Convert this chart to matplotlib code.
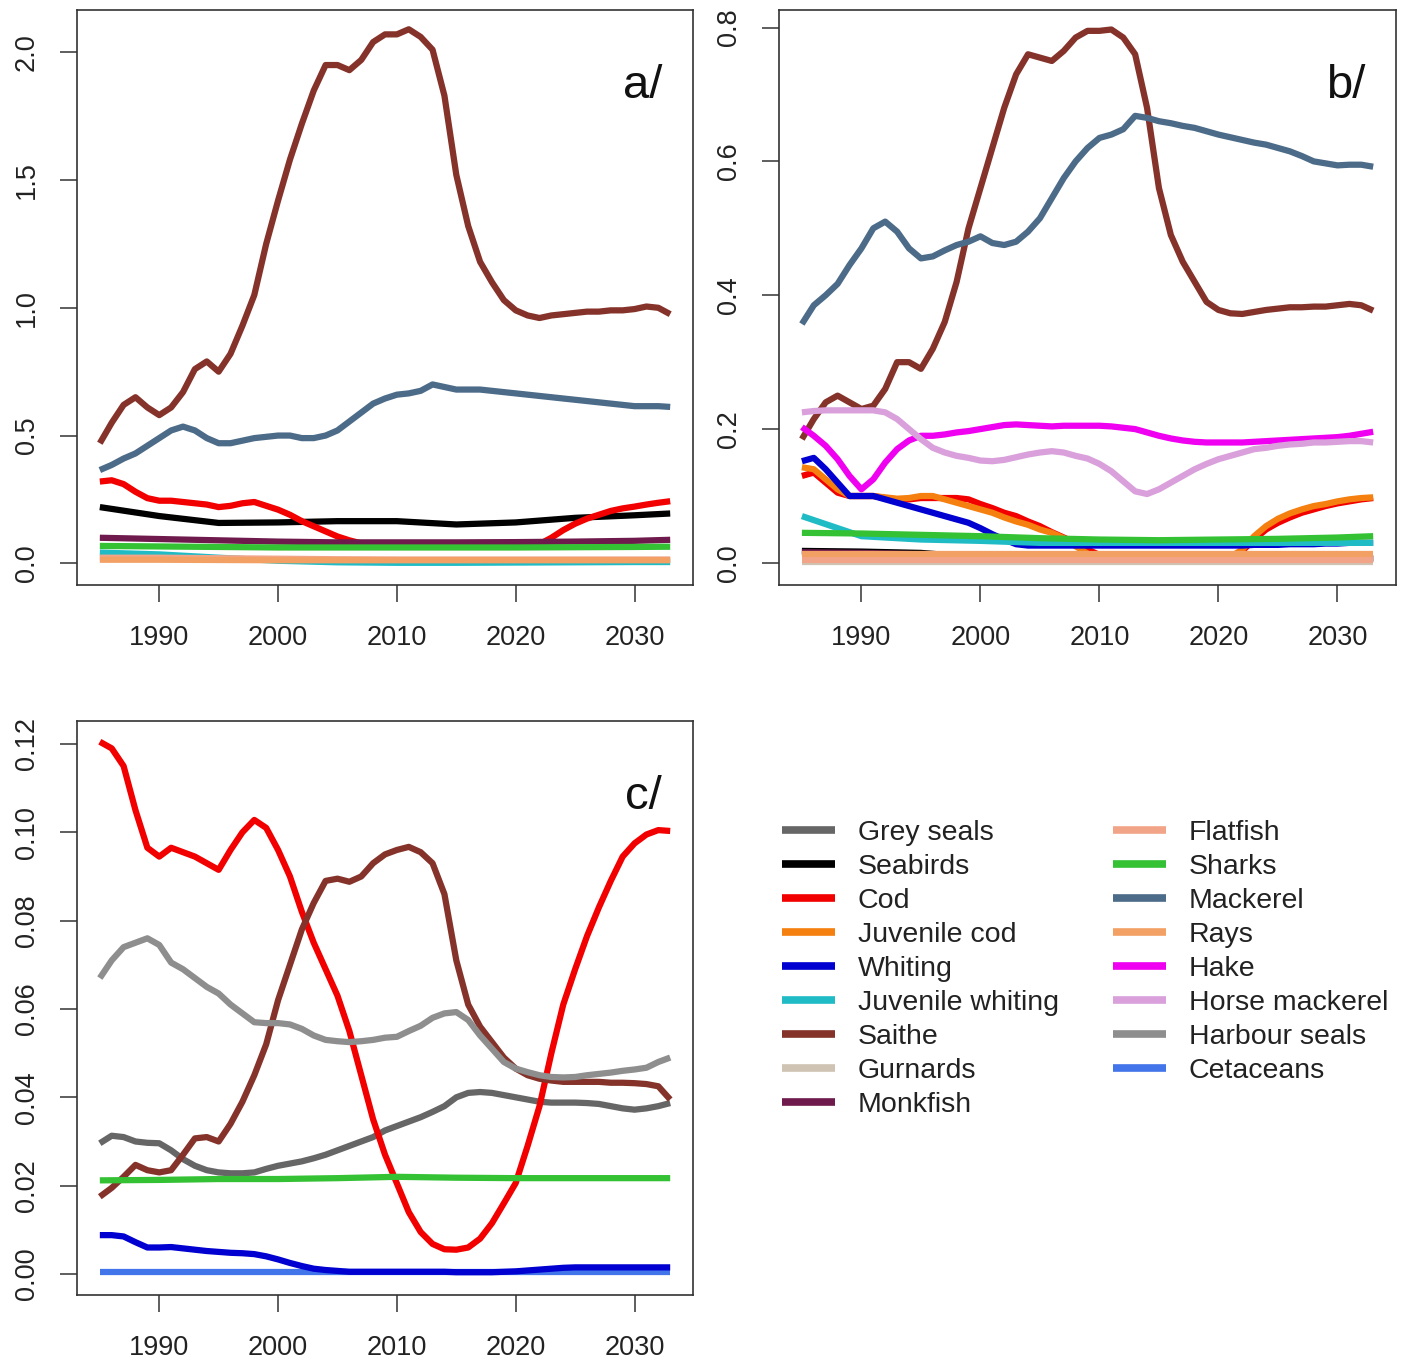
import numpy as np
import matplotlib
matplotlib.use("Agg")
import matplotlib.pyplot as plt
from matplotlib.lines import Line2D

plt.rcParams['font.family'] = ['Liberation Sans', 'DejaVu Sans']

# yearly series run 1985..2033, the flatter ones are sampled more coarsely
years = np.arange(1985, 2034)
yrs_s = [1985, 1990, 1995, 2000, 2005, 2010, 2015, 2020, 2025, 2030, 2033]

species = ["Grey seals", "Seabirds", "Cod", "Juvenile cod", "Whiting",
           "Juvenile whiting", "Saithe", "Gurnards", "Monkfish", "Flatfish",
           "Sharks", "Mackerel", "Rays", "Hake", "Horse mackerel",
           "Harbour seals", "Cetaceans"]
colours = ["#666666", "#000000", "#F20000", "#F5800F", "#0000D0",
           "#1FBCC6", "#85332A", "#CFC3B3", "#6E1A4C", "#F2A488",
           "#34C234", "#4C6B88", "#F3A064", "#F000F0", "#D9A0DC",
           "#8E8E8E", "#4274EA"]

# ---- panel a ----
a_saithe = [0.47, 0.55, 0.62, 0.65, 0.61, 0.58, 0.61, 0.67, 0.76, 0.79,
            0.75, 0.82, 0.93, 1.05, 1.25, 1.42, 1.58, 1.72, 1.85, 1.95,
            1.95, 1.93, 1.97, 2.04, 2.07, 2.07, 2.09, 2.06, 2.01, 1.83,
            1.52, 1.32, 1.18, 1.10, 1.03, 0.99, 0.97, 0.96, 0.97, 0.975,
            0.98, 0.985, 0.985, 0.99, 0.99, 0.995, 1.005, 1.0, 0.975]
a_mackerel = [0.365, 0.385, 0.41, 0.43, 0.46, 0.49, 0.52, 0.535, 0.52, 0.49,
              0.47, 0.47, 0.48, 0.49, 0.495, 0.50, 0.50, 0.49, 0.49, 0.50,
              0.52, 0.555, 0.59, 0.625, 0.645, 0.66, 0.665, 0.675, 0.70, 0.69,
              0.68, 0.68, 0.68, 0.675, 0.67, 0.665, 0.66, 0.655, 0.65, 0.645,
              0.64, 0.635, 0.63, 0.625, 0.62, 0.615, 0.615, 0.615, 0.612]
a_cod = [0.32, 0.325, 0.31, 0.28, 0.255, 0.245, 0.245, 0.24, 0.235, 0.23,
         0.22, 0.225, 0.235, 0.24, 0.225, 0.21, 0.19, 0.165, 0.145, 0.125,
         0.105, 0.09, 0.078, 0.068, 0.065, 0.065, 0.065, 0.065, 0.065, 0.065,
         0.065, 0.065, 0.065, 0.065, 0.065, 0.065, 0.066, 0.075, 0.10, 0.13,
         0.155, 0.175, 0.19, 0.205, 0.215, 0.222, 0.23, 0.237, 0.243]
a_seabirds = [0.22, 0.185, 0.158, 0.16, 0.165, 0.165, 0.152, 0.16, 0.178, 0.188, 0.195]
a_monkfish = [0.10, 0.095, 0.09, 0.085, 0.082, 0.082, 0.082, 0.083, 0.085, 0.088, 0.092]
a_sharks = [0.068, 0.066, 0.064, 0.062, 0.062, 0.062, 0.062, 0.062, 0.063, 0.064, 0.065]
a_juv_whiting = [0.042, 0.035, 0.022, 0.01, 0.004, 0.002, 0.002, 0.003, 0.004, 0.005, 0.005]
a_flatfish = [0.022, 0.022, 0.02, 0.018, 0.016, 0.015, 0.015, 0.015, 0.015, 0.015, 0.015]
a_rays = [0.014, 0.014, 0.013, 0.012, 0.012, 0.012, 0.012, 0.012, 0.012, 0.012, 0.012]

# ---- panel b ----
b_saithe = [0.185, 0.215, 0.24, 0.25, 0.24, 0.23, 0.235, 0.26, 0.30, 0.30,
            0.29, 0.32, 0.36, 0.42, 0.50, 0.56, 0.62, 0.68, 0.73, 0.76,
            0.755, 0.75, 0.765, 0.785, 0.795, 0.795, 0.797, 0.785, 0.76, 0.68,
            0.56, 0.49, 0.45, 0.42, 0.39, 0.378, 0.373, 0.372, 0.375, 0.378,
            0.38, 0.382, 0.382, 0.383, 0.383, 0.385, 0.387, 0.385, 0.377]
b_mackerel = [0.357, 0.385, 0.40, 0.417, 0.445, 0.47, 0.50, 0.51, 0.495, 0.47,
              0.455, 0.458, 0.467, 0.475, 0.48, 0.488, 0.478, 0.475, 0.48, 0.495,
              0.515, 0.545, 0.575, 0.60, 0.62, 0.635, 0.64, 0.648, 0.668, 0.665,
              0.66, 0.657, 0.653, 0.65, 0.645, 0.64, 0.636, 0.632, 0.628, 0.625,
              0.62, 0.615, 0.608, 0.60, 0.597, 0.594, 0.595, 0.595, 0.592]
b_hake = [0.203, 0.19, 0.175, 0.155, 0.13, 0.11, 0.125, 0.15, 0.17, 0.183,
          0.19, 0.19, 0.192, 0.195, 0.197, 0.20, 0.203, 0.206, 0.207, 0.206,
          0.205, 0.204, 0.205, 0.205, 0.205, 0.205, 0.204, 0.202, 0.20, 0.195,
          0.19, 0.186, 0.183, 0.181, 0.18, 0.18, 0.18, 0.18, 0.181, 0.182,
          0.183, 0.184, 0.185, 0.186, 0.187, 0.188, 0.19, 0.193, 0.196]
b_horse_mackerel = [0.225, 0.227, 0.228, 0.228, 0.228, 0.228, 0.228, 0.225, 0.215, 0.20,
                    0.185, 0.172, 0.165, 0.16, 0.157, 0.153, 0.152, 0.154, 0.158, 0.162,
                    0.165, 0.167, 0.165, 0.16, 0.156, 0.148, 0.137, 0.122, 0.107, 0.103,
                    0.11, 0.12, 0.13, 0.14, 0.148, 0.155, 0.16, 0.165, 0.17, 0.172,
                    0.175, 0.177, 0.178, 0.18, 0.18, 0.181, 0.182, 0.182, 0.18]
b_cod = [0.13, 0.135, 0.12, 0.105, 0.10, 0.10, 0.10, 0.097, 0.095, 0.095,
         0.097, 0.097, 0.097, 0.097, 0.095, 0.088, 0.082, 0.075, 0.07, 0.062,
         0.055, 0.046, 0.038, 0.03, 0.02, 0.012, 0.008, 0.008, 0.008, 0.008,
         0.008, 0.008, 0.008, 0.008, 0.008, 0.008, 0.009, 0.018, 0.035, 0.05,
         0.06, 0.068, 0.075, 0.08, 0.085, 0.089, 0.092, 0.095, 0.097]
b_juv_cod = [0.143, 0.14, 0.125, 0.11, 0.10, 0.10, 0.10, 0.098, 0.096, 0.097,
             0.10, 0.10, 0.095, 0.09, 0.085, 0.08, 0.075, 0.068, 0.062, 0.057,
             0.05, 0.045, 0.037, 0.025, 0.014, 0.008, 0.008, 0.008, 0.008, 0.008,
             0.008, 0.008, 0.008, 0.008, 0.008, 0.008, 0.009, 0.02, 0.04, 0.055,
             0.066, 0.074, 0.08, 0.085, 0.088, 0.092, 0.095, 0.097, 0.098]
b_whiting = [0.152, 0.157, 0.14, 0.12, 0.10, 0.10, 0.10, 0.095, 0.09, 0.085,
             0.08, 0.075, 0.07, 0.065, 0.06, 0.052, 0.043, 0.035, 0.028, 0.026,
             0.026, 0.026, 0.026, 0.026, 0.026, 0.026, 0.026, 0.026, 0.026, 0.026,
             0.026, 0.026, 0.026, 0.026, 0.026, 0.026, 0.026, 0.026, 0.027, 0.027,
             0.027, 0.028, 0.028, 0.028, 0.029, 0.029, 0.03, 0.03, 0.03]
b_juv_whiting = [0.07, 0.04, 0.035, 0.033, 0.03, 0.03, 0.03, 0.03, 0.03, 0.03, 0.03]
b_sharks = [0.045, 0.044, 0.042, 0.04, 0.037, 0.035, 0.034, 0.035, 0.036, 0.038, 0.04]
b_seabirds = [0.018, 0.017, 0.015, 0.008, 0.007, 0.007, 0.007, 0.007, 0.007, 0.007, 0.007]
b_monkfish = [0.016, 0.015, 0.013, 0.006, 0.006, 0.006, 0.006, 0.006, 0.006, 0.006, 0.006]
b_gurnards = [0.001, 0.001, 0.001, 0.001, 0.001, 0.001, 0.001, 0.001, 0.001, 0.001, 0.001]
b_flatfish = [0.005, 0.005, 0.005, 0.005, 0.005, 0.005, 0.005, 0.005, 0.005, 0.005, 0.005]
b_rays = [0.013, 0.013, 0.013, 0.013, 0.013, 0.013, 0.013, 0.013, 0.013, 0.013, 0.013]

# ---- panel c ----
c_cod = [0.1205, 0.119, 0.115, 0.105, 0.0965, 0.0945, 0.0965, 0.0955, 0.0945, 0.093,
         0.0915, 0.096, 0.100, 0.1028, 0.101, 0.096, 0.090, 0.082, 0.075, 0.069,
         0.063, 0.055, 0.045, 0.035, 0.027, 0.0205, 0.014, 0.0095, 0.0068, 0.0056,
         0.0055, 0.006, 0.008, 0.0115, 0.016, 0.0206, 0.029, 0.038, 0.05, 0.061,
         0.069, 0.0765, 0.083, 0.089, 0.0945, 0.0975, 0.0995, 0.1005, 0.1003]
c_saithe = [0.0175, 0.0195, 0.022, 0.0247, 0.0235, 0.023, 0.0235, 0.027, 0.0307, 0.031,
            0.030, 0.034, 0.039, 0.045, 0.052, 0.062, 0.070, 0.078, 0.084, 0.089,
            0.0895, 0.0888, 0.090, 0.093, 0.095, 0.096, 0.0967, 0.0955, 0.093, 0.086,
            0.071, 0.061, 0.056, 0.0525, 0.049, 0.0465, 0.045, 0.0442, 0.0438, 0.0435,
            0.0435, 0.0435, 0.0435, 0.0433, 0.0433, 0.0432, 0.043, 0.0425, 0.0395]
c_harbour_seals = [0.067, 0.071, 0.074, 0.075, 0.076, 0.0745, 0.0705, 0.069, 0.067, 0.065,
                   0.0635, 0.061, 0.059, 0.057, 0.0568, 0.0568, 0.0565, 0.0555, 0.054, 0.053,
                   0.0527, 0.0525, 0.0527, 0.053, 0.0535, 0.0537, 0.055, 0.0562, 0.058, 0.059,
                   0.0593, 0.0575, 0.054, 0.051, 0.048, 0.0465, 0.0457, 0.045, 0.0446, 0.0445,
                   0.0446, 0.045, 0.0453, 0.0456, 0.046, 0.0463, 0.0467, 0.048, 0.049]
c_grey_seals = [0.0296, 0.0313, 0.031, 0.030, 0.0297, 0.0296, 0.028, 0.026, 0.0245, 0.0235,
                0.023, 0.0228, 0.0228, 0.023, 0.0238, 0.0245, 0.025, 0.0255, 0.0262, 0.027,
                0.028, 0.029, 0.030, 0.031, 0.0325, 0.0335, 0.0345, 0.0355, 0.0367, 0.038,
                0.040, 0.041, 0.0412, 0.041, 0.0405, 0.040, 0.0395, 0.039, 0.0388, 0.0388,
                0.0388, 0.0387, 0.0385, 0.038, 0.0375, 0.0372, 0.0375, 0.038, 0.0387]
c_whiting = [0.0088, 0.0088, 0.0085, 0.0072, 0.006, 0.006, 0.0061, 0.0058, 0.0055, 0.0052,
             0.005, 0.0048, 0.0047, 0.0045, 0.004, 0.0033, 0.0025, 0.0018, 0.0012, 0.0009,
             0.0007, 0.0005, 0.0005, 0.0005, 0.0005, 0.0005, 0.0005, 0.0005, 0.0005, 0.0005,
             0.0004, 0.0004, 0.0004, 0.0004, 0.0005, 0.0006, 0.0008, 0.001, 0.0012, 0.0014,
             0.0015, 0.0015, 0.0015, 0.0015, 0.0015, 0.0015, 0.0015, 0.0015, 0.0015]
c_sharks = [0.0212, 0.0213, 0.0215, 0.0215, 0.0217, 0.022, 0.0218, 0.0217, 0.0217, 0.0217, 0.0217]
c_cetaceans = [0.0005, 0.0005, 0.0005, 0.0005, 0.0005, 0.0005, 0.0005, 0.0005, 0.0005, 0.0005, 0.0005]

col = dict(zip(species, colours))
FS = 19.5
LW = 4.5

fig = plt.figure(figsize=(14.08, 13.65), dpi=100)


def panel(rect, lines, ylim, yticks, ylabels, tag):
    ax = fig.add_axes(rect)
    for name, x, y in lines:
        ax.plot(x, y, color=col[name], lw=LW, solid_capstyle='butt',
                solid_joinstyle='round')
    ax.set_xlim(1983.08, 2034.92)
    ax.set_ylim(*ylim)
    ax.set_xticks([1990, 2000, 2010, 2020, 2030])
    ax.set_xticklabels(["1990", "2000", "2010", "2020", "2030"], fontsize=FS)
    ax.set_yticks(yticks)
    ax.set_yticklabels(ylabels, fontsize=FS, rotation=90, va='center')
    ax.tick_params(axis='x', direction='out', length=12, width=1.1,
                   color='#333333', pad=17, labelcolor='#222222')
    ax.tick_params(axis='y', direction='out', length=12, width=1.1,
                   color='#333333', pad=15, labelcolor='#222222')
    for sp in ax.spines.values():
        sp.set_linewidth(1.2)
        sp.set_color('#333333')
    ax.text(0.95, 0.847, tag, transform=ax.transAxes, ha='right',
            va='baseline', fontsize=34, color='#111111')
    return ax


panel([0.0547, 0.5714, 0.4375, 0.4212],
      [("Seabirds", yrs_s, a_seabirds),
       ("Cod", years, a_cod),
       ("Juvenile whiting", yrs_s, a_juv_whiting),
       ("Saithe", years, a_saithe),
       ("Monkfish", yrs_s, a_monkfish),
       ("Flatfish", yrs_s, a_flatfish),
       ("Sharks", yrs_s, a_sharks),
       ("Mackerel", years, a_mackerel),
       ("Rays", yrs_s, a_rays)],
      (-0.085, 2.165), [0.0, 0.5, 1.0, 1.5, 2.0],
      ["0.0", "0.5", "1.0", "1.5", "2.0"], "a/")

panel([0.5533, 0.5714, 0.4382, 0.4212],
      [("Seabirds", yrs_s, b_seabirds),
       ("Cod", years, b_cod),
       ("Juvenile cod", years, b_juv_cod),
       ("Whiting", years, b_whiting),
       ("Juvenile whiting", yrs_s, b_juv_whiting),
       ("Saithe", years, b_saithe),
       ("Gurnards", yrs_s, b_gurnards),
       ("Monkfish", yrs_s, b_monkfish),
       ("Flatfish", yrs_s, b_flatfish),
       ("Sharks", yrs_s, b_sharks),
       ("Mackerel", years, b_mackerel),
       ("Rays", yrs_s, b_rays),
       ("Hake", years, b_hake),
       ("Horse mackerel", years, b_horse_mackerel)],
      (-0.033, 0.826), [0.0, 0.2, 0.4, 0.6, 0.8],
      ["0.0", "0.2", "0.4", "0.6", "0.8"], "b/")

panel([0.0547, 0.0513, 0.4375, 0.4205],
      [("Cetaceans", yrs_s, c_cetaceans),
       ("Grey seals", years, c_grey_seals),
       ("Cod", years, c_cod),
       ("Whiting", years, c_whiting),
       ("Saithe", years, c_saithe),
       ("Sharks", yrs_s, c_sharks),
       ("Harbour seals", years, c_harbour_seals)],
      (-0.00475, 0.1252), [0.0, 0.02, 0.04, 0.06, 0.08, 0.10, 0.12],
      ["0.00", "0.02", "0.04", "0.06", "0.08", "0.10", "0.12"], "c/")

handles = [Line2D([], [], color=c, lw=5.5, solid_capstyle='butt') for c in colours]
fig.legend(handles, species, ncol=2, loc='upper left',
           bbox_to_anchor=(782 / 1408, (1365 - 820) / 1365),
           frameon=False, fontsize=20.5, handlelength=1.86, handletextpad=0.8,
           columnspacing=1.9, labelspacing=0.28, borderpad=0, borderaxespad=0,
           labelcolor='#222222')

fig.savefig("out.png", dpi=100)
